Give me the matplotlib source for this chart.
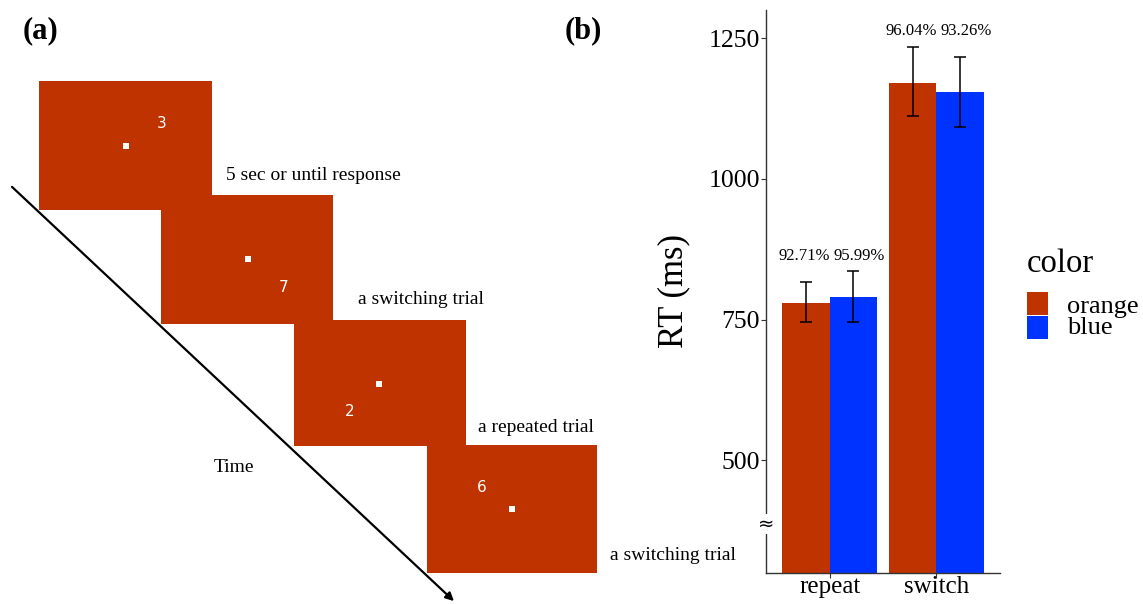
import numpy as np
import matplotlib.pyplot as plt
from matplotlib.patches import Rectangle

# ---- data ----
conditions = ['repeat', 'switch']
colors_lab = ['orange', 'blue']
rt_orange = [779, 1171]
rt_blue = [791, 1155]
err_orange_lo = [745, 1111]
err_orange_hi = [816, 1235]
err_blue_lo = [745, 1092]
err_blue_hi = [837, 1217]
acc_orange = ['92.71%', '96.04%']
acc_blue = ['95.99%', '93.26%']
acc_label_y = [863, 1262]
y_ticks = [500, 750, 1000, 1250]

# panel (a) trial sequence
trial_digits = ['3', '7', '2', '6']
trial_notes = ['5 sec or until response', 'a switching trial', 'a repeated trial', 'a switching trial']

ORANGE = '#BF3300'
BLUE = '#0033FF'
SERIF = 'Liberation Serif'

fig = plt.figure(figsize=(11.43, 6.04), dpi=100)

# ---- panel (a): schematic, drawn in pixel coords ----
ax_a = fig.add_axes([0, 0, 1, 1])
ax_a.set_xlim(0, 1143)
ax_a.set_ylim(604, 0)
ax_a.axis('off')
ax_a.patch.set_visible(False)

rect_xy = [(39, 81), (161, 195), (294, 320), (427, 445)]
rect_wh = [(173, 129), (172, 129), (172, 126), (170, 128)]
dot_xy = [(126, 146), (248, 259), (379, 384), (512, 509)]
digit_xy = [(162, 124), (284, 288), (350, 412), (482, 487)]
note_xy = [(226, 176), (358, 299), (478, 428), (610, 556)]

for i in range(4):
    x0, y0 = rect_xy[i]
    w, h = rect_wh[i]
    ax_a.add_patch(Rectangle((x0, y0), w, h, facecolor=ORANGE, edgecolor='none', zorder=2))
    dx, dy = dot_xy[i]
    ax_a.add_patch(Rectangle((dx - 3, dy - 3), 6, 6, facecolor='white', edgecolor='none', zorder=3))
    ax_a.text(digit_xy[i][0], digit_xy[i][1], trial_digits[i], color='white', fontsize=11,
              family='DejaVu Sans', ha='center', va='center', zorder=4)
    ax_a.text(note_xy[i][0], note_xy[i][1], trial_notes[i], fontsize=14, family=SERIF,
              ha='left', va='center', zorder=4)

ax_a.annotate('', xy=(456, 603), xytext=(10, 185),
              arrowprops=dict(arrowstyle='-|>', color='black', lw=1.6, mutation_scale=12), zorder=5)
ax_a.text(234, 468, 'Time', fontsize=14, family=SERIF, ha='center', va='center')

ax_a.text(40, 31, '(a)', fontsize=22, family=SERIF, weight='bold', ha='center', va='center')
ax_a.text(583, 31, '(b)', fontsize=22, family=SERIF, weight='bold', ha='center', va='center')

# legend, drawn by hand like ggplot's guide
ax_a.text(1027, 272, 'color', fontsize=23.5, family=SERIF, ha='left', va='baseline')
for i, (lab, col) in enumerate(zip(colors_lab, [ORANGE, BLUE])):
    ax_a.add_patch(Rectangle((1027, 292 + i * 23.5), 21, 23, facecolor=col, edgecolor='none'))
    ax_a.text(1067, 313 + i * 21.5, lab, fontsize=19, family=SERIF, ha='left', va='baseline')

# ---- panel (b): bar chart ----
ax = fig.add_axes([766 / 1143, 1 - 573 / 604, (1000 - 766) / 1143, (573 - 10) / 604])
x = np.arange(len(conditions)) + 1
bw = 0.445

ax.bar(x - bw / 2, rt_orange, width=bw, color=ORANGE, zorder=2)
ax.bar(x + bw / 2, rt_blue, width=bw, color=BLUE, zorder=2)

for xs, lo, hi in [(x - bw / 2, err_orange_lo, err_orange_hi), (x + bw / 2, err_blue_lo, err_blue_hi)]:
    mid = (np.array(lo) + np.array(hi)) / 2
    half = (np.array(hi) - np.array(lo)) / 2
    ax.errorbar(xs, mid, yerr=half, fmt='none', ecolor='black', elinewidth=1.1,
                capsize=4.5, capthick=1.1, zorder=3)

for i in range(len(conditions)):
    ax.text(x[i] - bw / 2 - 0.015, acc_label_y[i], acc_orange[i], fontsize=12, family=SERIF,
            ha='center', va='center')
    ax.text(x[i] + bw / 2 + 0.055, acc_label_y[i], acc_blue[i], fontsize=12, family=SERIF,
            ha='center', va='center')

ax.set_xlim(0.4, 2.6)
ax.set_ylim(300, 1300)
ax.set_yticks(y_ticks)
ax.set_yticklabels([str(v) for v in y_ticks], family=SERIF, fontsize=18.5)
ax.set_xticks(x)
ax.set_xticklabels(conditions, family=SERIF, fontsize=18)
ax.tick_params(axis='both', length=3.5, width=0.8, color='#333333')
ax.tick_params(axis='y', pad=1)
ax.tick_params(axis='x', pad=-1)
ax.set_ylabel('RT (ms)', family=SERIF, fontsize=25, va='center')
ax.yaxis.set_label_coords(-0.393, 0.5)
ax.spines['top'].set_visible(False)
ax.spines['right'].set_visible(False)
for s in ['left', 'bottom']:
    ax.spines[s].set_linewidth(1.0)
    ax.spines[s].set_color('#333333')

# axis break mark
ax.text(0.4, 387, '\u2248', fontsize=14, family='DejaVu Sans', ha='center', va='center',
        clip_on=False, bbox=dict(facecolor='white', edgecolor='none', pad=0.3), zorder=5)

fig.savefig('out.png', dpi=100)
